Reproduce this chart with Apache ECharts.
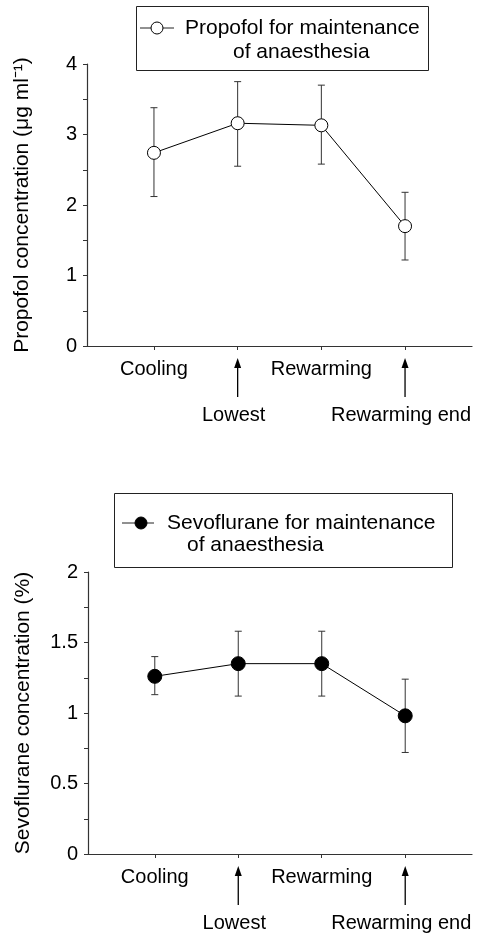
<!DOCTYPE html>
<html>
<head>
<meta charset="utf-8">
<title>Propofol and sevoflurane concentration</title>
<script src="https://cdn.jsdelivr.net/npm/echarts@6/dist/echarts.min.js"></script>
<style>
  html, body { margin: 0; padding: 0; background: #fff; }
  #chart { width: 478px; height: 933px; }
</style>
</head>
<body>
<div id="chart"></div>
<script>
// x positions of the four time points and their labels
var stages = [1, 2, 3, 4];
var stageLabels = ["Cooling", "Lowest", "Rewarming", "Rewarming end"];

// propofol concentration (ug/ml): mean, lower and upper error bar ends
var propofolMean = [2.74, 3.16, 3.13, 1.70];
var propofolLow = [2.12, 2.55, 2.58, 1.22];
var propofolHigh = [3.38, 3.75, 3.70, 2.18];

// sevoflurane concentration (%)
var sevoMean = [1.26, 1.35, 1.35, 0.98];
var sevoLow = [1.13, 1.12, 1.12, 0.72];
var sevoHigh = [1.40, 1.58, 1.58, 1.24];

// y axis ticks
var propofolTicks = { min: 0, max: 4, interval: 1 };
var sevoTicks = { min: 0, max: 2, interval: 0.5 };

var font = "'Liberation Sans', Arial, Helvetica, sans-serif";

function pairs(ys) {
  return stages.map(function (x, i) { return [x, ys[i]]; });
}
function bars(lo, hi) {
  return stages.map(function (x, i) { return [x, lo[i], hi[i]]; });
}

function errorBarItem(params, api) {
  var x = api.value(0);
  var lo = api.coord([x, api.value(1)]);
  var hi = api.coord([x, api.value(2)]);
  var cap = 3.5;
  var style = { stroke: "#333", lineWidth: 1 };
  return {
    type: "group",
    children: [
      { type: "line", shape: { x1: lo[0], y1: lo[1], x2: hi[0], y2: hi[1] }, style: style },
      { type: "line", shape: { x1: lo[0] - cap, y1: lo[1], x2: lo[0] + cap, y2: lo[1] }, style: style },
      { type: "line", shape: { x1: hi[0] - cap, y1: hi[1], x2: hi[0] + cap, y2: hi[1] }, style: style }
    ]
  };
}

function xAxisFor(gridIndex) {
  return {
    gridIndex: gridIndex,
    type: "value",
    min: 0.2,
    max: 4.8,
    splitLine: { show: false },
    axisLine: { lineStyle: { color: "#333", width: 1.2 } },
    axisTick: { customValues: stages, length: 4, lineStyle: { color: "#333" } },
    axisLabel: {
      customValues: stages,
      margin: 13,
      formatter: function (v) {
        var i = Math.round(v) - 1;
        return i % 2 === 0 ? "{up|" + stageLabels[i] + "}" : "{low|" + stageLabels[i] + "}";
      },
      rich: {
        up: { fontSize: 20, fontFamily: font, color: "#000" },
        low: { fontSize: 20, fontFamily: font, color: "#000", padding: [46, 8, 0, 0] }
      }
    }
  };
}

function yAxisFor(gridIndex, ticks, name) {
  return {
    gridIndex: gridIndex,
    type: "value",
    min: ticks.min,
    max: ticks.max,
    interval: ticks.interval,
    name: name,
    nameLocation: "middle",
    nameGap: 54,
    nameTextStyle: { fontSize: 21, fontFamily: font, color: "#000" },
    splitLine: { show: false },
    axisLine: { show: true, lineStyle: { color: "#333", width: 1.2 } },
    axisTick: { show: true, length: 4, lineStyle: { color: "#333" } },
    minorTick: { show: true, splitNumber: 2, length: 4, lineStyle: { color: "#333" } },
    axisLabel: { fontSize: 20, fontFamily: font, color: "#000", margin: 10 }
  };
}

function legendBox(id, box, icon, filled, lines) {
  return {
    id: id,
    type: "group",
    children: [
      { type: "rect", shape: box, style: { fill: "#fff", stroke: "#222", lineWidth: 1 } },
      { type: "line", shape: { x1: icon.x1, y1: icon.y, x2: icon.x2, y2: icon.y }, style: { stroke: "#222", lineWidth: 1 } },
      { type: "circle", shape: { cx: icon.cx, cy: icon.y, r: 6 }, style: { fill: filled ? "#000" : "#fff", stroke: "#000", lineWidth: 1 } },
      { type: "text", x: lines[0].x, y: lines[0].y, style: { text: lines[0].text, font: "21px " + font, fill: "#000", verticalAlign: "middle" } },
      { type: "text", x: lines[1].x, y: lines[1].y, style: { text: lines[1].text, font: "21px " + font, fill: "#000", verticalAlign: "middle" } }
    ]
  };
}

var myChart = echarts.init(document.getElementById("chart"));
var option = {
  animation: false,
  backgroundColor: "#fff",
  grid: [
    { left: 87, top: 64, width: 385, height: 282 },
    { left: 88, top: 572, width: 384, height: 282 }
  ],
  xAxis: [xAxisFor(0), xAxisFor(1)],
  yAxis: [
    yAxisFor(0, propofolTicks, "Propofol concentration (\u03bcg ml\u207b\u00b9)"),
    yAxisFor(1, sevoTicks, "Sevoflurane concentration (%)")
  ],
  series: [
    {
      name: "Propofol error",
      type: "custom",
      xAxisIndex: 0,
      yAxisIndex: 0,
      renderItem: errorBarItem,
      data: bars(propofolLow, propofolHigh),
      z: 2
    },
    {
      name: "Propofol for maintenance of anaesthesia",
      type: "line",
      xAxisIndex: 0,
      yAxisIndex: 0,
      data: pairs(propofolMean),
      symbol: "circle",
      symbolSize: 13,
      itemStyle: { color: "#fff", borderColor: "#000", borderWidth: 1 },
      lineStyle: { color: "#000", width: 1 },
      z: 3
    },
    {
      name: "Sevoflurane error",
      type: "custom",
      xAxisIndex: 1,
      yAxisIndex: 1,
      renderItem: errorBarItem,
      data: bars(sevoLow, sevoHigh),
      z: 2
    },
    {
      name: "Sevoflurane for maintenance of anaesthesia",
      type: "line",
      xAxisIndex: 1,
      yAxisIndex: 1,
      data: pairs(sevoMean),
      symbol: "circle",
      symbolSize: 14,
      itemStyle: { color: "#000", borderColor: "#000", borderWidth: 1 },
      lineStyle: { color: "#000", width: 1 },
      z: 3
    }
  ]
};
myChart.setOption(option);

// legend boxes, and arrows under "Lowest" / "Rewarming end" placed with the axes' own scale
var graphics = [
  legendBox("leg1", { x: 136.5, y: 6.5, width: 292, height: 64 },
    { x1: 140, x2: 174, cx: 157, y: 28 }, false,
    [{ x: 185, y: 28, text: "Propofol for maintenance" }, { x: 233, y: 52, text: "of anaesthesia" }]),
  legendBox("leg2", { x: 114.5, y: 493.5, width: 338, height: 74 },
    { x1: 122, x2: 154, cx: 141, y: 523 }, true,
    [{ x: 167, y: 523, text: "Sevoflurane for maintenance" }, { x: 187, y: 545, text: "of anaesthesia" }])
];
[0, 1].forEach(function (g) {
  [2, 4].forEach(function (x) {
    var p = myChart.convertToPixel({ xAxisIndex: g, yAxisIndex: g }, [x, 0]);
    var top = p[1] + 12;
    graphics.push({
      id: "arrowLine" + g + "_" + x,
      type: "line",
      shape: { x1: p[0], y1: top + 8, x2: p[0], y2: top + 39 },
      style: { stroke: "#000", lineWidth: 1.3 }
    });
    graphics.push({
      id: "arrowHead" + g + "_" + x,
      type: "polygon",
      shape: { points: [[p[0], top], [p[0] - 3.5, top + 10], [p[0] + 3.5, top + 10]] },
      style: { fill: "#000" }
    });
  });
});
myChart.setOption({ graphic: graphics });

window.addEventListener("resize", function () {
  myChart.resize();
});
</script>
</body>
</html>
